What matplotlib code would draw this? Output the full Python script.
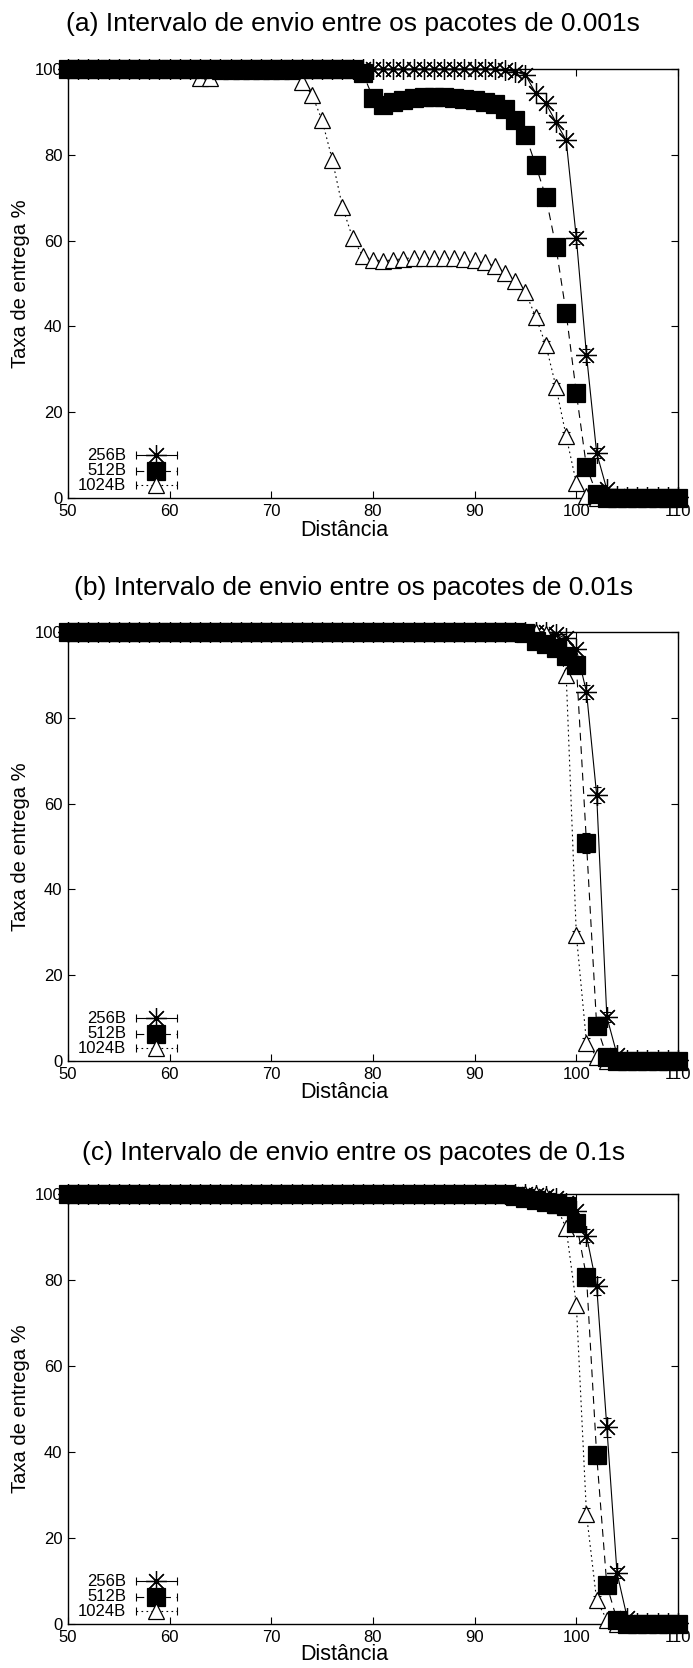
import matplotlib
matplotlib.use("Agg")
import matplotlib.pyplot as plt
from matplotlib import font_manager
import numpy as np

plt.rcParams['font.family'] = ['Liberation Sans', 'DejaVu Sans']

# ---------------- data ----------------
distance = list(range(50, 111))
series_names = ["256B", "512B", "1024B"]
x_ticks = [50, 60, 70, 80, 90, 100, 110]
y_ticks = [0, 20, 40, 60, 80, 100]
titles = ["(a) Intervalo de envio entre os pacotes de 0.001s",
          "(b) Intervalo de envio entre os pacotes de 0.01s",
          "(c) Intervalo de envio entre os pacotes de 0.1s"]

# panel (a)
a_256 = [100, 100, 100, 100, 100, 100, 100, 100, 100, 100,   # 50-59
         100, 100, 100, 100, 100, 100, 100, 100, 100, 100,   # 60-69
         100, 100, 100, 100, 100, 100, 100, 100, 100, 100,   # 70-79
         100, 100, 100, 100, 100, 100, 100, 100, 100, 100,   # 80-89
         100, 100, 100, 99.7, 99.4, 98.6, 94.4, 92, 87.6, 83.4,  # 90-99
         60.6, 33.3, 10.5, 2, 0.5, 0.3, 0.3, 0.3, 0.3, 0.3,  # 100-109
         0.3]
a_512 = [100, 100, 100, 100, 100, 100, 100, 100, 100, 100,
         100, 100, 100, 100, 100, 100, 100, 100, 100, 100,
         100, 100, 100, 100, 100, 100, 100, 100, 100, 99,
         93.3, 91.6, 92.3, 92.8, 93.2, 93.5, 93.5, 93.5, 93.3, 93.1,
         92.8, 92.4, 91.8, 90.6, 88.1, 84.6, 77.6, 70.2, 58.5, 43.1,
         24.5, 7.2, 1, 0, 0, 0, 0, 0, 0, 0,
         0]
a_1024 = [100, 100, 100, 100, 100, 100, 100, 100, 100, 100,
          100, 100, 100, 98, 98, 99.5, 99.5, 99.5, 99.5, 99.5,
          99.5, 99.5, 99.5, 97, 94, 88, 78.8, 67.8, 60.6, 56.4,
          55.5, 55.3, 55.5, 55.8, 56, 56, 56, 56, 56, 55.8,
          55.5, 55, 54, 52.5, 50.5, 48, 42.2, 35.7, 25.9, 14.4,
          3.5, 0.5, 0, 0, 0, 0, 0, 0, 0, 0,
          0]

# panel (b)
b_256 = [100, 100, 100, 100, 100, 100, 100, 100, 100, 100,
         100, 100, 100, 100, 100, 100, 100, 100, 100, 100,
         100, 100, 100, 100, 100, 100, 100, 100, 100, 100,
         100, 100, 100, 100, 100, 100, 100, 100, 100, 100,
         100, 100, 100, 100, 100, 100, 100, 100, 99.5, 98.5,
         96, 86, 62, 10.3, 1.5, 0.3, 0.3, 0.3, 0.3, 0.3,
         0.3]
b_512 = [100, 100, 100, 100, 100, 100, 100, 100, 100, 100,
         100, 100, 100, 100, 100, 100, 100, 100, 100, 100,
         100, 100, 100, 100, 100, 100, 100, 100, 100, 100,
         100, 100, 100, 100, 100, 100, 100, 100, 100, 100,
         100, 100, 100, 100, 100, 99.8, 97.8, 97.2, 96.2, 94.5,
         92.3, 50.8, 8.2, 1, 0, 0, 0, 0, 0, 0,
         0]
b_1024 = [100, 100, 100, 100, 100, 100, 100, 100, 100, 100,
          100, 100, 100, 100, 100, 100, 100, 100, 100, 100,
          100, 100, 100, 100, 100, 100, 100, 100, 100, 100,
          100, 100, 100, 100, 100, 100, 100, 100, 100, 100,
          100, 100, 100, 100, 100, 100, 100, 99.5, 97.5, 90,
          29.4, 4.3, 1, 0, 0, 0, 0, 0, 0, 0,
          0]

# panel (c)
c_256 = [100, 100, 100, 100, 100, 100, 100, 100, 100, 100,
         100, 100, 100, 100, 100, 100, 100, 100, 100, 100,
         100, 100, 100, 100, 100, 100, 100, 100, 100, 100,
         100, 100, 100, 100, 100, 100, 100, 100, 100, 100,
         100, 100, 100, 100, 100, 100, 99.8, 99.5, 99, 98,
         96, 90.3, 78.6, 45.8, 11.9, 1.5, 0.3, 0.3, 0.3, 0.3,
         0.3]
c_512 = [100, 100, 100, 100, 100, 100, 100, 100, 100, 100,
         100, 100, 100, 100, 100, 100, 100, 100, 100, 100,
         100, 100, 100, 100, 100, 100, 100, 100, 100, 100,
         100, 100, 100, 100, 100, 100, 100, 100, 100, 100,
         100, 100, 100, 100, 99.6, 99.1, 98.6, 98.1, 97.7, 97.2,
         93.3, 80.7, 39.3, 9, 1, 0, 0, 0, 0, 0,
         0]
c_1024 = [100, 100, 100, 100, 100, 100, 100, 100, 100, 100,
          100, 100, 100, 100, 100, 100, 100, 100, 100, 100,
          100, 100, 100, 100, 100, 100, 100, 100, 100, 100,
          100, 100, 100, 100, 100, 100, 100, 100, 100, 100,
          100, 100, 100, 100, 100, 100, 100, 99.5, 97.5, 92,
          74.2, 25.5, 5.5, 1, 0, 0, 0, 0, 0, 0,
          0]

# small error bars (distance, half-width) where visible
err_a_256 = ([100, 101, 102], [1.5, 1.5, 1.2])
err_a_512 = ([99, 100, 101], [1.5, 1.5, 1.2])
err_a_1024 = ([96, 97, 98, 99], [1.0, 1.0, 1.0, 1.0])
err_b_256 = ([101, 102, 103], [1.6, 1.9, 1.2])
err_b_512 = ([101, 102], [2.3, 1.5])
err_b_1024 = ([100, 101], [1.0, 1.0])
err_c_256 = ([101, 102, 103, 104], [1.5, 2.2, 2.2, 1.2])
err_c_512 = ([102, 103], [2.0, 1.5])
err_c_1024 = ([101, 102], [1.5, 1.0])

panels = [
    [(a_256, err_a_256), (a_512, err_a_512), (a_1024, err_a_1024)],
    [(b_256, err_b_256), (b_512, err_b_512), (b_1024, err_b_1024)],
    [(c_256, err_c_256), (c_512, err_c_512), (c_1024, err_c_1024)],
]

# ---------------- style ----------------
installed = {f.name for f in font_manager.fontManager.ttflist}
tick_family = ['Liberation Sans Narrow', 'Liberation Sans'] \
    if 'Liberation Sans Narrow' in installed else ['Liberation Sans']
tick_size = 13 if 'Liberation Sans Narrow' in installed else 12

W, H = 693, 1668
fig = plt.figure(figsize=(W / 100, H / 100), dpi=100)

ax_left = 68 / W
ax_width = (678 - 68) / W
ax_boxes = [(69, 498), (632, 1061), (1194, 1624)]
title_y = [24, 588, 1153]
xlabel_y = [531, 1093, 1654]

styles = [
    dict(marker=(8, 2, 0), ms=15, mfc='none', mec='black', mew=0.9,
         ls='-', zorder=2),
    dict(marker='s', ms=13, mfc='black', mec='black', mew=0.9,
         ls=(0, (7, 5)), zorder=4),
    dict(marker='^', ms=12, mfc='white', mec='black', mew=0.9,
         ls=(0, (1.5, 3)), zorder=3),
]
legend_y = [0.100, 0.063, 0.030]

x_arr = np.array(distance, dtype=float)

for p, (top, bot) in enumerate(ax_boxes):
    ax = fig.add_axes([ax_left, 1 - bot / H, ax_width, (bot - top) / H])
    ax.set_xlim(50, 110)
    ax.set_ylim(0, 100)
    for i, (vals, (ex, ev)) in enumerate(panels[p]):
        st = styles[i]
        y = np.array(vals, dtype=float)
        yerr = np.zeros_like(y)
        for xx, ee in zip(ex, ev):
            yerr[distance.index(xx)] = ee
        ax.plot(x_arr, y, color='black', lw=0.8, ls=st['ls'],
                zorder=st['zorder'], clip_on=False)
        mask = yerr > 0
        ax.errorbar(x_arr[mask], y[mask], yerr=yerr[mask], fmt='none',
                    ecolor='black', elinewidth=0.8, capsize=3, capthick=0.8,
                    zorder=st['zorder'], clip_on=False)
        ax.plot(x_arr, y, ls='none', marker=st['marker'], ms=st['ms'],
                mfc=st['mfc'], mec=st['mec'], mew=st['mew'],
                zorder=st['zorder'] + 0.5, clip_on=False)
        # legend entry (gnuplot style)
        ly = legend_y[i]
        ax.plot([0.112, 0.179], [ly, ly], transform=ax.transAxes,
                color='black', lw=0.8, ls=st['ls'], clip_on=False, zorder=6)
        ax.plot([0.112, 0.179], [ly, ly], transform=ax.transAxes,
                ls='none', marker='|', ms=6, mew=0.8, color='black',
                clip_on=False, zorder=6)
        ax.plot([0.145], [ly], transform=ax.transAxes, ls='none',
                marker=st['marker'], ms=st['ms'], mfc=st['mfc'],
                mec=st['mec'], mew=st['mew'], clip_on=False, zorder=7)
        ax.text(0.095, ly, series_names[i], transform=ax.transAxes,
                ha='right', va='center', fontsize=tick_size,
                family=tick_family, zorder=7)

    ax.set_xticks(x_ticks)
    ax.set_yticks(y_ticks)
    ax.tick_params(direction='in', length=5, width=0.8, top=True, right=True,
                   labelsize=tick_size, pad=4)
    for lab in ax.get_xticklabels() + ax.get_yticklabels():
        lab.set_family(tick_family)
    for s in ax.spines.values():
        s.set_linewidth(1.0)
        s.set_color('black')
        s.set_zorder(1)
    ax.set_ylabel("Taxa de entrega %", fontsize=14.5, labelpad=4)
    ax.yaxis.set_label_coords(-0.062, 0.5)
    fig.text(0.51, 1 - title_y[p] / H, titles[p], ha='center', va='center',
             fontsize=19)
    fig.text(0.497, 1 - xlabel_y[p] / H, "Distância", ha='center',
             va='center', fontsize=15.5)

fig.savefig("out.png", dpi=100)
